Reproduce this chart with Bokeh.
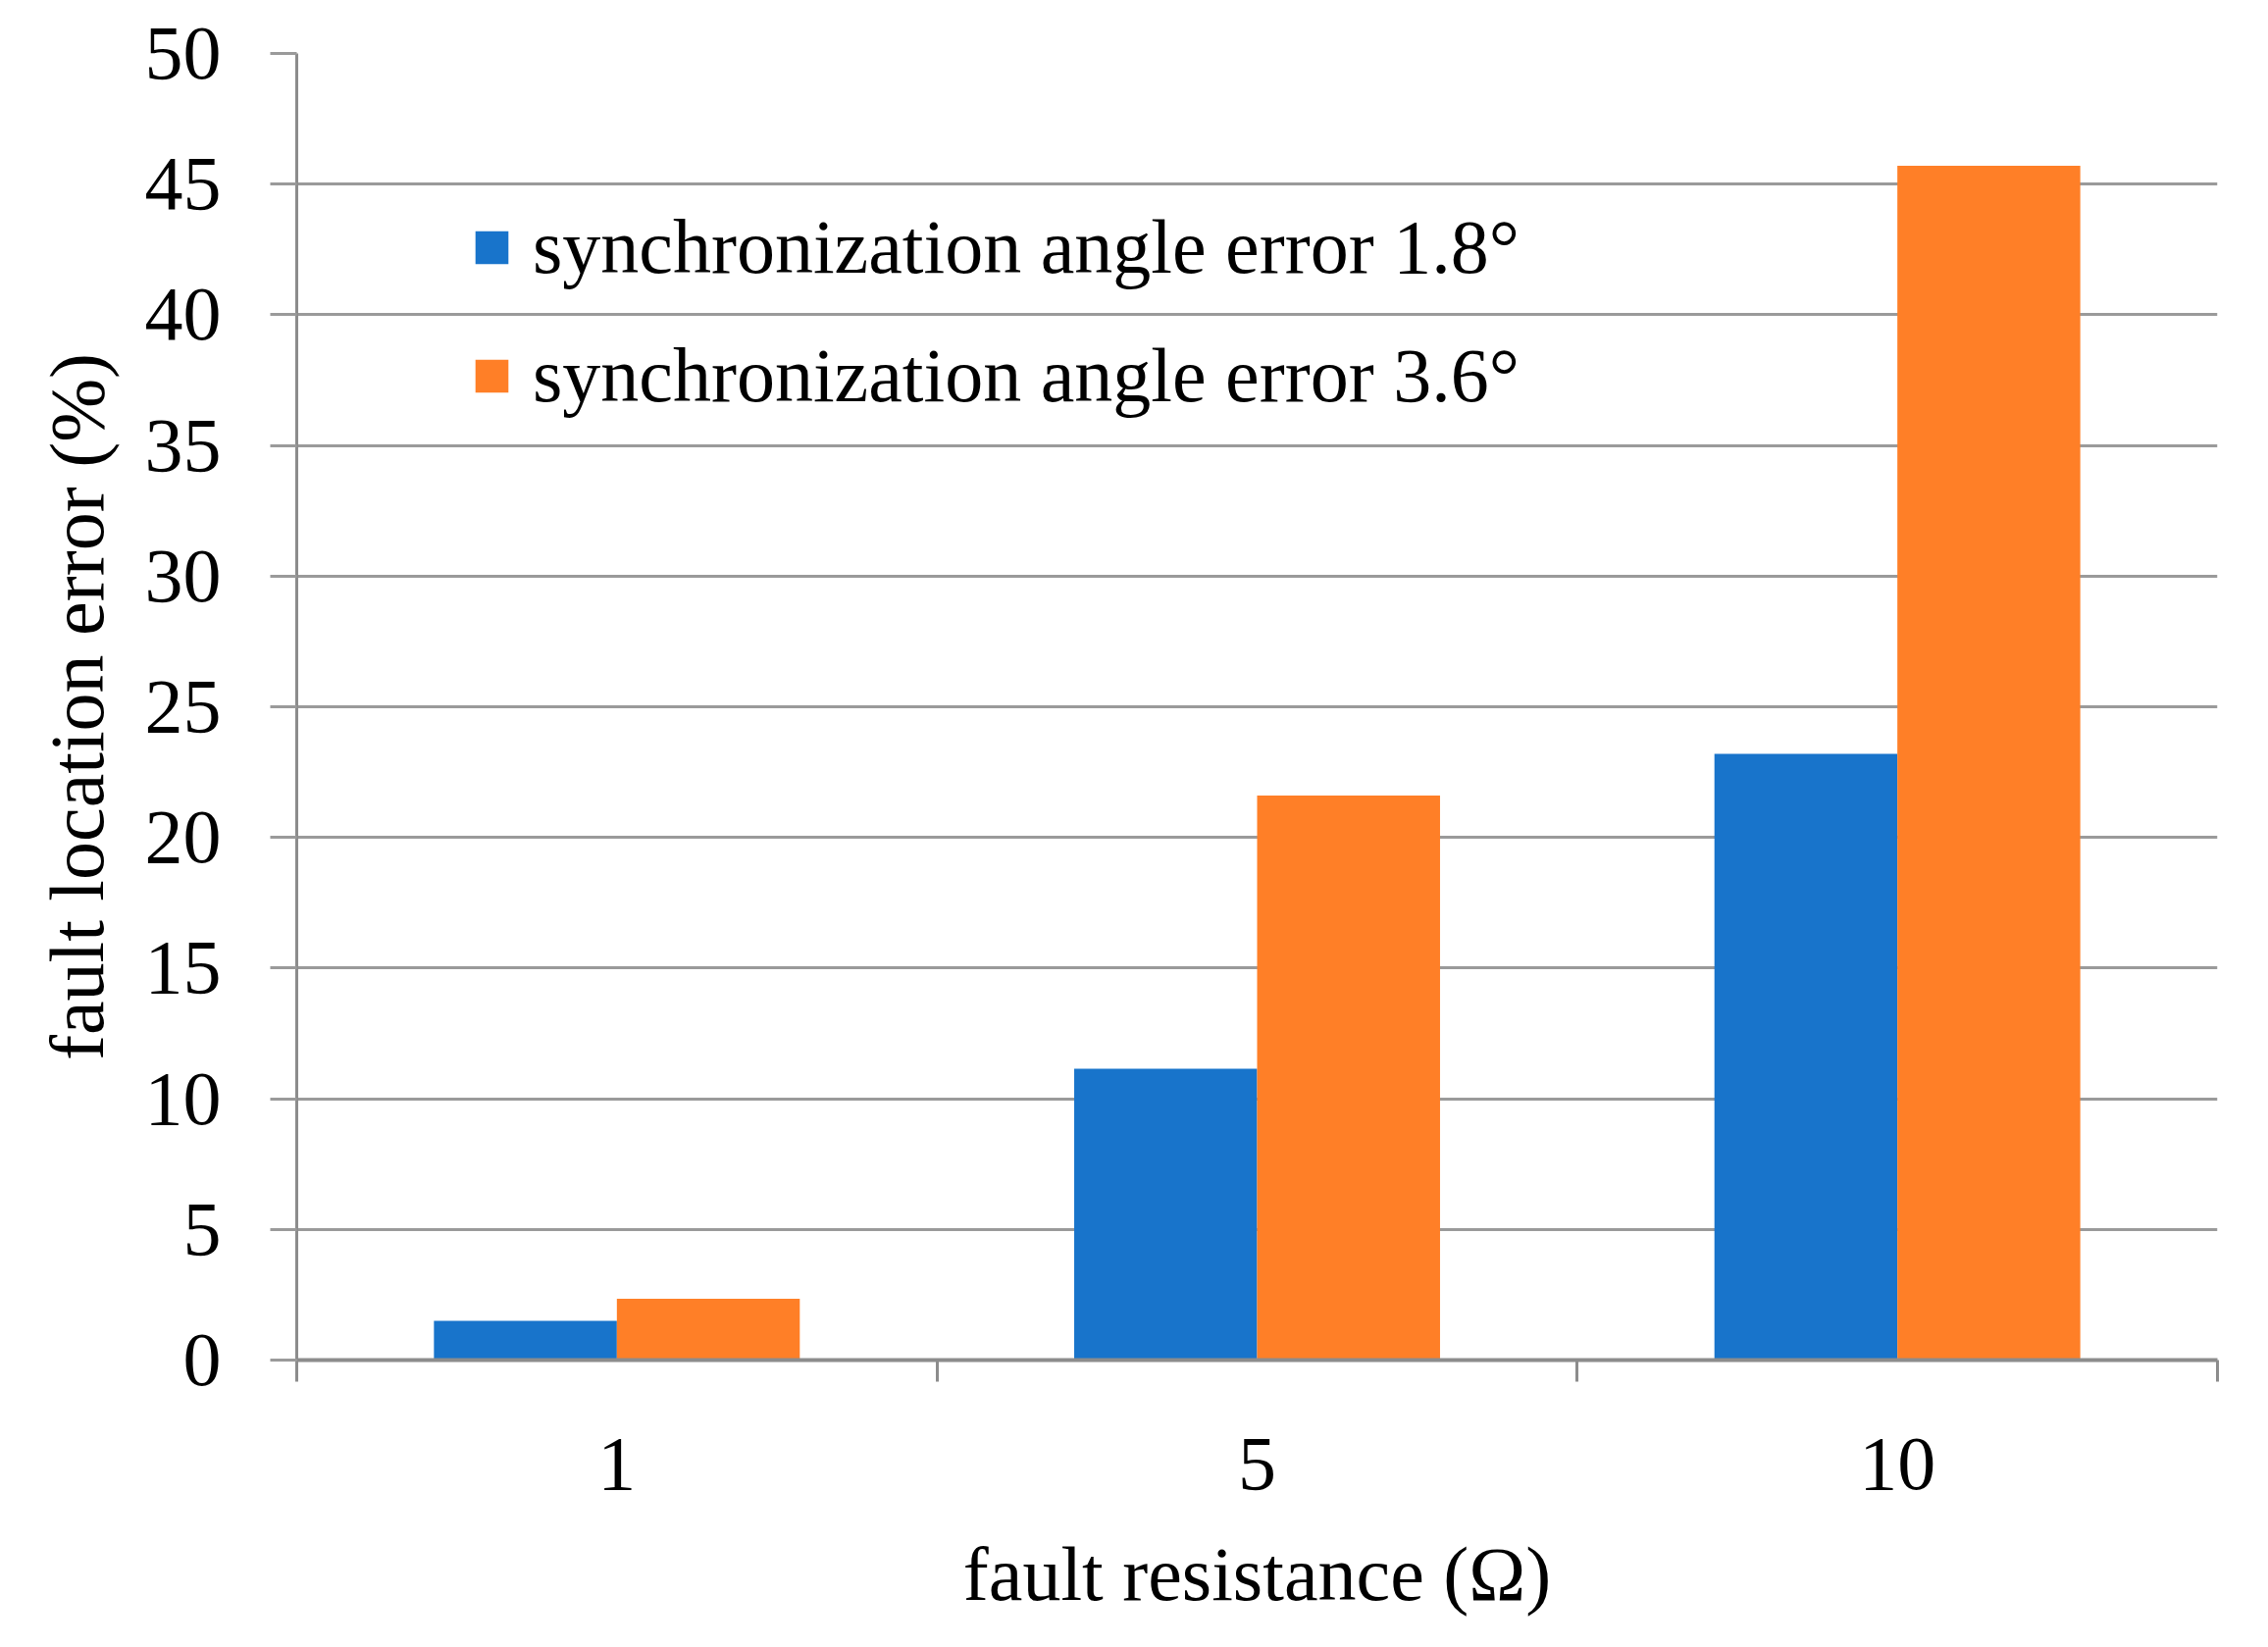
from bokeh.plotting import figure
from bokeh.models import FixedTicker, Range1d, Legend, LegendItem, ColumnDataSource
from bokeh.embed import file_html
from bokeh.resources import INLINE

# ---- data ----
categories = ["1", "5", "10"]
series_names = ["synchronization angle error 1.8°", "synchronization angle error 3.6°"]
err_18 = [1.5, 11.15, 23.2]
err_36 = [2.35, 21.6, 45.7]
y_ticks = [0, 5, 10, 15, 20, 25, 30, 35, 40, 45, 50]
x_title = "fault resistance (Ω)"
y_title = "fault location error (%)"

colors = ["#1874CB", "#FF7F27"]
FONT = "Liberation Serif"
FS = "78px"
GRID = "#9a9a9a"
AXIS = "#8c8c8c"

n = len(categories)
centers = [i + 0.5 for i in range(n)]
bar_w = 1 / 3.5

src = ColumnDataSource(dict(
    xa=[c - bar_w / 2 for c in centers],
    xb=[c + bar_w / 2 for c in centers],
    a=err_18,
    b=err_36,
))

p = figure(width=2296, height=1663, x_range=Range1d(0, n), y_range=Range1d(0, 50),
           output_backend="svg", toolbar_location=None,
           min_border_left=302, min_border_right=36, min_border_top=54, min_border_bottom=277)
p.outline_line_color = None
p.background_fill_color = "white"
p.border_fill_color = "white"

r1 = p.vbar(x="xa", top="a", width=bar_w, bottom=0, source=src,
            fill_color=colors[0], line_color=None)
r2 = p.vbar(x="xb", top="b", width=bar_w, bottom=0, source=src,
            fill_color=colors[1], line_color=None)

# grid
p.xgrid.visible = False
p.ygrid.ticker = FixedTicker(ticks=y_ticks)
p.ygrid.grid_line_color = GRID
p.ygrid.grid_line_width = 3

# x axis
xa = p.xaxis[0]
xa.ticker = FixedTicker(ticks=centers, minor_ticks=list(range(n + 1)))
xa.major_label_overrides = {c: lab for c, lab in zip(centers, categories)}
xa.major_tick_line_color = None
xa.major_tick_out = 0
xa.major_tick_in = 0
xa.minor_tick_out = 22
xa.minor_tick_in = 0
xa.minor_tick_line_color = AXIS
xa.minor_tick_line_width = 3
xa.axis_line_color = AXIS
xa.axis_line_width = 4
xa.major_label_standoff = 58
xa.major_label_text_font = FONT
xa.major_label_text_font_size = FS
xa.major_label_text_color = "black"
xa.axis_label = x_title
xa.axis_label_text_font = FONT
xa.axis_label_text_font_size = FS
xa.axis_label_text_font_style = "normal"
xa.axis_label_text_color = "black"
xa.axis_label_standoff = 40

# y axis
ya = p.yaxis[0]
ya.ticker = FixedTicker(ticks=y_ticks)
ya.minor_tick_line_color = None
ya.major_tick_out = 27
ya.major_tick_in = 0
ya.major_tick_line_color = GRID
ya.major_tick_line_width = 3
ya.axis_line_color = AXIS
ya.axis_line_width = 3
ya.major_label_standoff = 50
ya.major_label_text_font = FONT
ya.major_label_text_font_size = FS
ya.major_label_text_color = "black"
ya.axis_label = y_title
ya.axis_label_text_font = FONT
ya.axis_label_text_font_size = FS
ya.axis_label_text_font_style = "normal"
ya.axis_label_text_color = "black"
ya.axis_label_standoff = 23

legend = Legend(items=[LegendItem(label=series_names[0], renderers=[r1]),
                       LegendItem(label=series_names[1], renderers=[r2])],
                location=(178, 958), padding=0, margin=0, spacing=41,
                glyph_width=42, glyph_height=42, label_standoff=21, label_height=90,
                label_text_font=FONT, label_text_font_size=FS, label_text_color="black",
                border_line_color=None, background_fill_alpha=0)
p.add_layout(legend)

open("out.html", "w").write(file_html(p, INLINE))
